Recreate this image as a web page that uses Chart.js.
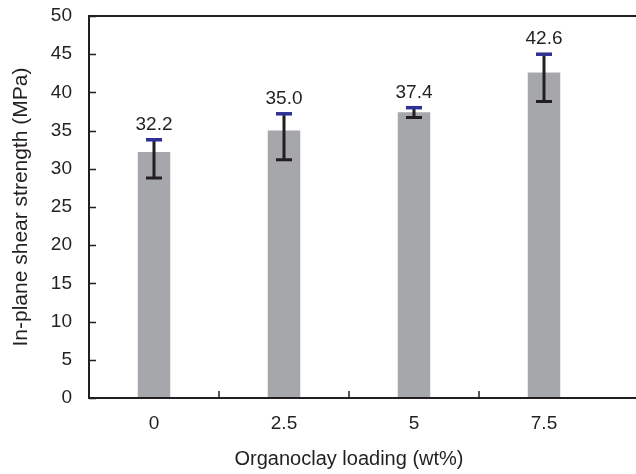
<!DOCTYPE html>
<html>
<head>
<meta charset="utf-8">
<script src="https://cdn.jsdelivr.net/npm/chart.js@4/dist/chart.umd.min.js"></script>
<style>
  html, body { margin: 0; padding: 0; background: #fff; }
  #wrap { width: 636px; height: 474px; }
</style>
</head>
<body>
<div id="wrap"><canvas id="shear-chart" width="636" height="474"></canvas></div>
<script>
// Data
var loadings = ["0", "2.5", "5", "7.5"];
var strength = [32.2, 35.0, 37.4, 42.6];
var errUpper = [33.8, 37.2, 38.0, 45.0];
var errLower = [28.8, 31.2, 36.7, 38.8];
var yTicks = [0, 5, 10, 15, 20, 25, 30, 35, 40, 45, 50];

var ink = "#231f20";
var capBlue = "#2e3192";
var fontFamily = "'Liberation Sans', Arial, sans-serif";

// frame, inward tick marks, error bars and value labels
var decorations = {
    id: "decorations",
    afterDatasetsDraw: function(chart) {
        var ctx = chart.ctx;
        var area = chart.chartArea;
        var x = chart.scales.x;
        var y = chart.scales.y;
        ctx.save();

        // axes lines + top border
        ctx.strokeStyle = ink;
        ctx.lineWidth = 2;
        ctx.beginPath();
        ctx.moveTo(area.left, area.top);
        ctx.lineTo(chart.width, area.top);
        ctx.moveTo(area.left, area.top - 1);
        ctx.lineTo(area.left, area.bottom);
        ctx.lineTo(chart.width, area.bottom);
        ctx.stroke();

        // y tick marks, pointing inward
        ctx.lineWidth = 1.5;
        ctx.beginPath();
        yTicks.forEach(function(v) {
            var py = Math.round(y.getPixelForValue(v)) + 0.5;
            ctx.moveTo(area.left, py);
            ctx.lineTo(area.left + 7, py);
        });
        // x tick marks between categories
        for (var i = 0; i < loadings.length - 1; i++) {
            var px = (x.getPixelForValue(i) + x.getPixelForValue(i + 1)) / 2;
            ctx.moveTo(px, area.bottom);
            ctx.lineTo(px, area.bottom - 7);
        }
        ctx.stroke();

        // error bars
        for (var j = 0; j < strength.length; j++) {
            var cx = x.getPixelForValue(j);
            var top = y.getPixelForValue(errUpper[j]);
            var bot = y.getPixelForValue(errLower[j]);
            ctx.strokeStyle = ink;
            ctx.lineWidth = 3;
            ctx.beginPath();
            ctx.moveTo(cx, top);
            ctx.lineTo(cx, bot);
            ctx.moveTo(cx - 8, bot);
            ctx.lineTo(cx + 8, bot);
            ctx.stroke();
            ctx.strokeStyle = capBlue;
            ctx.lineWidth = 3.5;
            ctx.beginPath();
            ctx.moveTo(cx - 8, top);
            ctx.lineTo(cx + 8, top);
            ctx.stroke();

            // value label
            ctx.fillStyle = ink;
            ctx.font = "19px " + fontFamily;
            ctx.textAlign = "center";
            ctx.textBaseline = "middle";
            ctx.fillText(strength[j].toFixed(1), cx, top - 15);
        }
        ctx.restore();
    }
};

var ctx = document.getElementById("shear-chart");

var chartData = {
    labels: loadings,
    datasets: [{
        label: "In-plane shear strength",
        data: strength,
        backgroundColor: "#a6a7ab",
        borderWidth: 0,
        categoryPercentage: 1.0,
        barPercentage: 0.25
    }]
};

var config = {
    type: "bar",
    data: chartData,
    plugins: [decorations],
    options: {
        responsive: false,
        animation: false,
        layout: { padding: { top: 16, right: 27, bottom: 0, left: 0 } },
        plugins: {
            legend: { display: false },
            tooltip: { enabled: false }
        },
        scales: {
            x: {
                grid: { display: false, drawTicks: false },
                border: { display: false },
                ticks: { color: ink, padding: 14, font: { family: fontFamily, size: 19 } },
                title: {
                    display: true,
                    text: "Organoclay loading (wt%)",
                    color: ink,
                    padding: { top: 4, bottom: 3 },
                    font: { family: fontFamily, size: 20 }
                },
                afterFit: function(scale) {
                    scale.height = 76;
                    scale.paddingLeft = 0;
                    scale.paddingRight = 0;
                }
            },
            y: {
                min: 0,
                max: 50,
                grid: { display: false, drawTicks: false },
                border: { display: false },
                ticks: { stepSize: 5, color: ink, padding: 17, font: { family: fontFamily, size: 19 } },
                title: {
                    display: true,
                    text: "In-plane shear strength (MPa)",
                    color: ink,
                    padding: { top: 9, bottom: 4 },
                    font: { family: fontFamily, size: 21 }
                },
                afterFit: function(scale) {
                    scale.width = 89;
                    scale.paddingTop = 0;
                    scale.paddingBottom = 0;
                }
            }
        }
    }
};

var shearChart = new Chart(ctx, config);
</script>
</body>
</html>
